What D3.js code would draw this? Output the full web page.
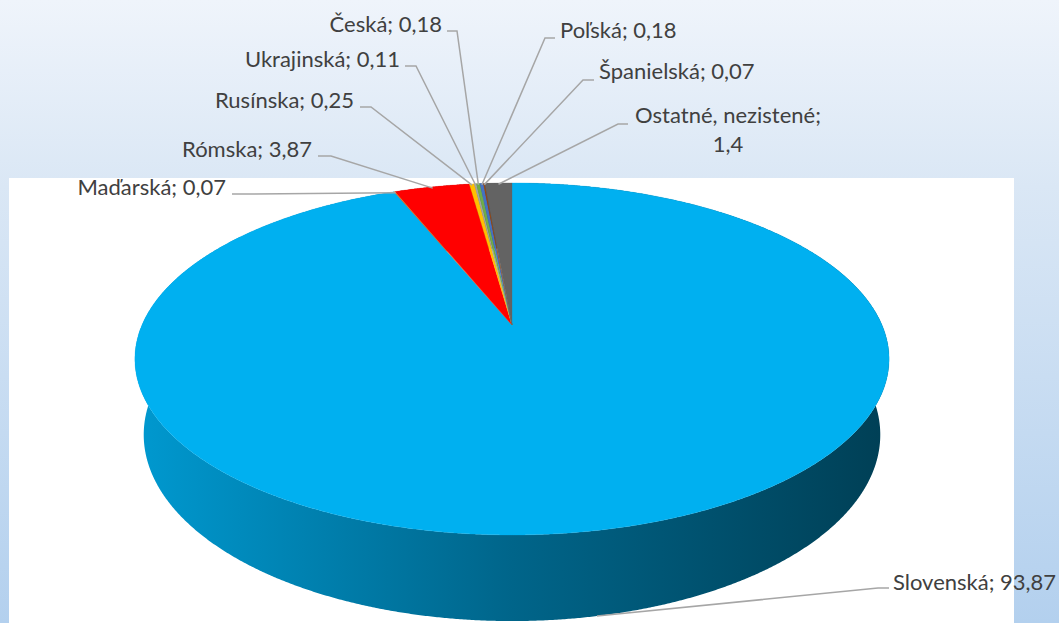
<!DOCTYPE html>
<html>
<head>
<meta charset="utf-8">
<script src="https://cdn.jsdelivr.net/npm/d3@7"></script>
<style>
  html, body { margin: 0; padding: 0; background: #fff; }
  svg { display: block; }
  text { font-family: Lato, "Liberation Sans", sans-serif; fill: #404040; }
</style>
</head>
<body>
<script>
// ---------- data ----------
const categories = ['Slovenská', 'Maďarská', 'Rómska', 'Rusínska', 'Ukrajinská', 'Česká', 'Poľská', 'Španielská', 'Ostatné, nezistené'];
const values = [93.87, 0.07, 3.87, 0.25, 0.11, 0.18, 0.18, 0.07, 1.4];
const sliceColors = ['#00B0F0', '#ED7D31', '#FF0000', '#FFC000', '#A5A5A5', '#70AD47', '#4472C4', '#9E480E', '#636363'];

// ---------- label layout (text anchor x, baseline y, stub near text, elbow) ----------
const labelLayout = [
  { anchor: 'start',  x: 893, y: 590, stub: [889, 588], elbow: [878, 588], bottom: true },
  { anchor: 'end',    x: 226, y: 195, stub: [232, 194], elbow: [243, 194] },
  { anchor: 'end',    x: 312, y: 157, stub: [318, 156], elbow: [331, 156] },
  { anchor: 'end',    x: 354, y: 108, stub: [360, 107], elbow: [371, 107] },
  { anchor: 'end',    x: 400, y: 67,  stub: [405, 66],  elbow: [416, 66] },
  { anchor: 'end',    x: 442, y: 32,  stub: [447, 31],  elbow: [457, 31] },
  { anchor: 'start',  x: 560, y: 38,  stub: [555, 38],  elbow: [545, 38] },
  { anchor: 'start',  x: 599, y: 79,  stub: [594, 80],  elbow: [583, 80] },
  { anchor: 'middle', x: 728, y: 123, stub: [628, 124], elbow: [618, 124], lines: ['Ostatné, nezistené;', '1,4'] }
];

const W = 1059, H = 623;
const svg = d3.select('body').append('svg').attr('width', W).attr('height', H);
const defs = svg.append('defs');

// background
const bg = defs.append('linearGradient').attr('id', 'bg').attr('x1', 0).attr('y1', 0).attr('x2', 0).attr('y2', 1);
bg.append('stop').attr('offset', 0).attr('stop-color', '#EFF4FB');
bg.append('stop').attr('offset', 0.3).attr('stop-color', '#DAE7F5');
bg.append('stop').attr('offset', 1).attr('stop-color', '#B3D0EE');
svg.append('rect').attr('width', W).attr('height', H).attr('fill', 'url(#bg)');
svg.append('rect').attr('x', 9).attr('y', 178).attr('width', 1005).attr('height', H - 178).attr('fill', '#fff');

// ---------- 3D perspective projection ----------
const cx = 512, cy = 325;
const sinP = 0.458, cosP = 0.889, Dist = 4.608, F = 1705, depth = 0.232;
function proj(theta, r, h) {
  const u = r * Math.sin(theta), v = -r * Math.cos(theta);
  const z = Dist - h * sinP - v * cosP;
  const yc = h * cosP - v * sinP;
  return [cx + F * u / z, cy - F * yc / z];
}

const pie = d3.pie().sort(null).value(d => d).startAngle(0).endAngle(2 * Math.PI);
const arcs = pie(values);

function rim(a0, a1, h) {
  const n = Math.max(2, Math.ceil((a1 - a0) / (Math.PI / 720)));
  const pts = [];
  for (let i = 0; i <= n; i++) pts.push(proj(a0 + (a1 - a0) * i / n, 1, h));
  return pts;
}
const line = d3.line();

// walls
arcs.forEach((a, i) => {
  const c = d3.color(sliceColors[i]);
  const g = defs.append('linearGradient').attr('id', 'wall' + i)
    .attr('gradientUnits', 'userSpaceOnUse').attr('x1', 135).attr('y1', 0).attr('x2', 889).attr('y2', 0);
  g.append('stop').attr('offset', 0).attr('stop-color', c.darker(0.4).formatHex());
  g.append('stop').attr('offset', 0.5).attr('stop-color', c.darker(1.55).formatHex());
  g.append('stop').attr('offset', 1).attr('stop-color', c.darker(2.9).formatHex());
});
arcs.forEach((a, i) => {
  const top = rim(a.startAngle, a.endAngle, 0);
  const bot = rim(a.startAngle, a.endAngle, -depth).reverse();
  svg.append('path').attr('d', line(top.concat(bot)) + 'Z').attr('fill', `url(#wall${i})`);
});

// top faces
arcs.forEach((a, i) => {
  const pts = [proj(0, 0, 0)].concat(rim(a.startAngle, a.endAngle, 0));
  svg.append('path').attr('d', line(pts) + 'Z').attr('fill', sliceColors[i])
    .attr('stroke', sliceColors[i]).attr('stroke-width', 0.3);
});

// leaders and labels
const fmt = v => String(v).replace('.', ',');
arcs.forEach((a, i) => {
  const L = labelLayout[i];
  const mid = (a.startAngle + a.endAngle) / 2;
  const anchorPt = L.bottom ? proj(mid, 1, -depth) : proj(mid, 0.99, 0);
  svg.append('path').attr('d', line([anchorPt, L.elbow, L.stub]))
    .attr('fill', 'none').attr('stroke', '#A6A6A6').attr('stroke-width', 1.5);
  const t = svg.append('text').attr('x', L.x).attr('y', L.y).attr('text-anchor', L.anchor)
    .style('font-size', '22px');
  const lines = L.lines || [categories[i] + '; ' + fmt(values[i])];
  lines.forEach((s, k) => {
    t.append('tspan').attr('x', L.x).attr('dy', k === 0 ? 0 : 29).text(s);
  });
});
</script>
</body>
</html>
